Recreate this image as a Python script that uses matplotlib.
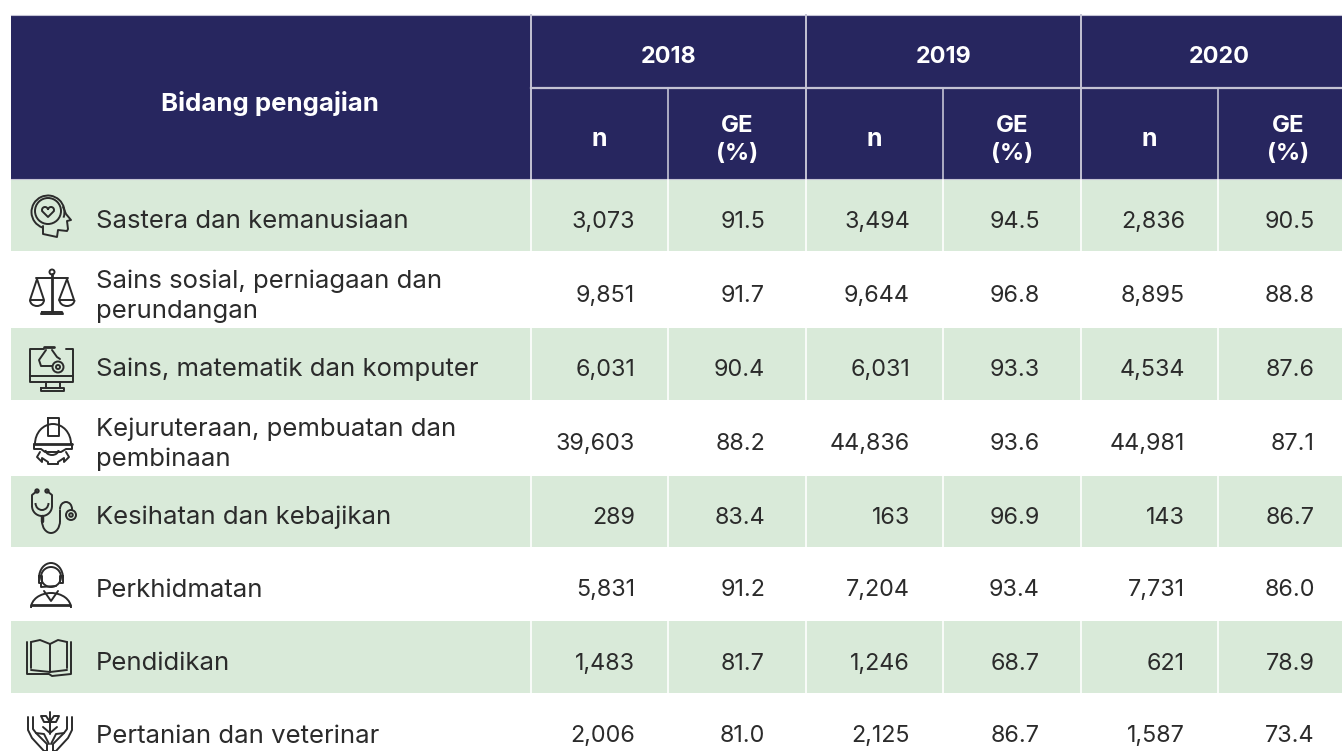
import numpy as np
from matplotlib import pyplot as plt
from matplotlib.patches import Rectangle, Circle, Arc

plt.rcParams['font.family'] = ['Inter', 'DejaVu Sans']

# table data
fields = ["Sastera dan kemanusiaan", "Sains sosial, perniagaan dan\nperundangan", "Sains, matematik dan komputer",
          "Kejuruteraan, pembuatan dan\npembinaan", "Kesihatan dan kebajikan", "Perkhidmatan", "Pendidikan",
          "Pertanian dan veterinar"]
years = ["2018", "2019", "2020"]
n_2018 = ["3,073", "9,851", "6,031", "39,603", "289", "5,831", "1,483", "2,006"]
ge_2018 = ["91.5", "91.7", "90.4", "88.2", "83.4", "91.2", "81.7", "81.0"]
n_2019 = ["3,494", "9,644", "6,031", "44,836", "163", "7,204", "1,246", "2,125"]
ge_2019 = ["94.5", "96.8", "93.3", "93.6", "96.9", "93.4", "68.7", "86.7"]
n_2020 = ["2,836", "8,895", "4,534", "44,981", "143", "7,731", "621", "1,587"]
ge_2020 = ["90.5", "88.8", "87.6", "87.1", "86.7", "86.0", "78.9", "73.4"]

# layout in pixels, the last column runs off the right edge of the picture
col_edges = [11, 531, 668, 806, 943, 1081, 1218, 1358]
row_edges = [180, 251, 328, 400, 476, 547, 621, 693, 760]
text_y = [221.5, 296.5, 369.5, 444.5, 517.5, 590.5, 663.5, 736.5]
navy = '#27265f'
green = '#d9ead9'
rule = '#c4c3d4'
ink = '#2b2b2b'
label_fs = 18.5
num_fs = 16.8
head_fs = 16.8

fig = plt.figure(figsize=(13.42, 7.51), dpi=100)
ax = fig.add_axes([0, 0, 1, 1])
ax.set_xlim(0, 1342)
ax.set_ylim(751, 0)
ax.axis('off')

# header
ax.add_patch(Rectangle((11, 15), 1331, 164, fc=navy, ec='none'))
for x in col_edges[1:-1:2]:
    ax.plot([x, x], [15, 179], color=rule, lw=1.4)
for x in col_edges[2::2][:3]:
    ax.plot([x, x], [88, 179], color=rule, lw=1.2)
ax.plot([531, 1342], [88, 88], color=rule, lw=1.6)
ax.plot([11, 1342], [15, 15], color=rule, lw=0.8)
ax.plot([11, 1342], [179, 179], color=rule, lw=0.8)
ax.text(270, 103, "Bidang pengajian", color='white', fontsize=18.6, fontweight='bold', ha='center', va='center')
for i, yr in enumerate(years):
    c0, c1 = col_edges[1 + 2*i], col_edges[3 + 2*i]
    ax.text((c0 + c1)/2, 57, yr, color='white', fontsize=head_fs, fontweight='bold', ha='center', va='center')
    ax.text((c0 + col_edges[2 + 2*i])/2, 140, "n", color='white', fontsize=18, fontweight='bold', ha='center', va='center')
    xc = (col_edges[2 + 2*i] + c1)/2
    ax.text(xc, 126, "GE", color='white', fontsize=17.2, fontweight='bold', ha='center', va='center')
    ax.text(xc, 154, "(%)", color='white', fontsize=17.2, fontweight='bold', ha='center', va='center')

# body
n_cols = [n_2018, n_2019, n_2020]
ge_cols = [ge_2018, ge_2019, ge_2020]
n_right = [635, 910, 1185]
ge_right = [765, 1040, 1315]
for r, name in enumerate(fields):
    top, bottom = row_edges[r], row_edges[r + 1]
    if r % 2 == 0:
        ax.add_patch(Rectangle((11, top), 1331, bottom - top, fc=green, ec='none'))
        for x in col_edges[1:-1]:
            ax.plot([x, x], [top, bottom], color='white', lw=1.2)
    if '\n' in name:
        first, second = name.split('\n')
        ax.text(96, text_y[r] - 15, first, color=ink, fontsize=label_fs, ha='left', va='center')
        ax.text(96, text_y[r] + 15, second, color=ink, fontsize=label_fs, ha='left', va='center')
    else:
        ax.text(96, text_y[r], name, color=ink, fontsize=label_fs, ha='left', va='center')
    for j in range(3):
        ax.text(n_right[j], text_y[r], n_cols[j][r], color=ink, fontsize=num_fs, ha='right', va='center')
        ax.text(ge_right[j], text_y[r], ge_cols[j][r], color=ink, fontsize=num_fs, ha='right', va='center')


# icons, thin outline drawings. y runs downward so arcs 180-360 are upper halves
def line(xs, ys, lw=1.4):
    ax.plot(xs, ys, color=ink, lw=lw, solid_capstyle='round', clip_on=True)


def ring(x, y, r, lw=1.4):
    ax.add_patch(Circle((x, y), r, fc='none', ec=ink, lw=lw))


def arc(x, y, w, h, a0, a1, lw=1.4):
    ax.add_patch(Arc((x, y), w, h, theta1=a0, theta2=a1, ec=ink, lw=lw))


# head with heart
arc(48, 212, 33, 33, 110, 20)
ring(48, 211, 13)
arc(45, 210, 6, 6, 150, 360)
arc(51, 210, 6, 6, 180, 390)
line([42.5, 48, 53.5], [211.5, 217, 211.5])
line([63, 66, 71, 67, 68, 67, 58, 57, 43, 43], [207, 214, 220, 221, 229, 231, 230, 237, 234, 226])
# scales
line([52, 52], [274, 311], 2)
ring(52, 272, 2.5)
line([36, 68], [278, 278])
line([37, 30, 44, 37], [279, 300, 300, 279])
line([67, 59, 74, 67], [279, 300, 300, 279])
arc(37, 300, 14, 12, 0, 180)
arc(67, 300, 15, 12, 0, 180)
line([42, 62, 63, 41, 42], [312, 312, 314, 314, 312])
# monitor
line([44, 30, 30, 73, 73, 66], [349, 349, 382, 382, 349, 349])
line([30, 73], [376, 376])
line([46, 46, 60, 60], [382, 388, 388, 382])
line([41, 64, 64, 41, 41], [388, 388, 391, 391, 388])
line([44, 54], [347, 347], 2)
line([46, 39, 41, 52], [350, 360, 366, 366])
line([52, 57, 60], [350, 357, 359])
ring(58, 367, 5.5)
ring(58, 367, 2)
# helmet and gear
arc(53, 444, 36, 40, 180, 360)
line([48, 48, 59, 59, 48], [418, 436, 436, 418, 418])
line([34, 72], [444, 444], 2)
line([34, 34, 41, 45, 61, 66, 72, 72], [444, 449, 449, 452, 452, 449, 449, 444])
arc(52, 450, 13, 10, 0, 180)
line([40, 37, 42, 42, 48, 48, 58, 58, 64, 64, 69, 66], [452, 457, 462, 458, 462, 464, 464, 462, 458, 462, 457, 452])
# stethoscope
line([37, 32, 32], [491, 495, 506])
line([47, 52, 52], [491, 495, 506])
arc(42, 506, 20, 20, 0, 180)
arc(42, 503, 13, 14, 0, 180)
ring(37, 491, 1.7)
ring(47, 491, 1.7)
line([42, 42], [516, 521], 2.5)
arc(51, 521, 18, 24, 0, 180)
line([60, 60], [521, 510])
arc(66, 509, 12, 14, 180, 360)
line([72, 72], [509, 510])
ring(71, 515, 5)
ring(71, 515, 1.8)
# headset person
ring(51, 577, 10)
arc(51, 578, 24, 30, 180, 360)
line([39, 39, 42, 42, 39], [576, 583, 583, 576, 576])
line([63, 63, 60, 60, 63], [576, 583, 583, 576, 576])
line([41, 41, 56], [584, 587, 586])
line([44, 51, 58], [591, 601, 591])
arc(51, 608, 40, 30, 180, 360)
line([31, 70], [605, 605], 2)
# book
line([27, 27, 49, 52, 71, 71], [642, 674, 674, 676, 674, 642])
line([31, 31], [642, 668])
line([67, 67], [642, 668])
line([31, 40, 50, 50], [642, 640, 644, 672])
line([67, 58, 50], [642, 640, 644])
line([31, 50, 67], [670, 672, 670])
# plant in hands
line([50, 50], [712, 734])
line([50, 44, 41, 46, 50], [722, 722, 716, 716, 722])
line([50, 56, 59, 54, 50], [722, 722, 716, 716, 722])
line([43, 50, 57], [727, 733, 727])
line([28, 28, 32, 44, 46], [717, 730, 738, 751, 751])
line([33, 33, 36, 47, 47], [717, 729, 733, 744, 751])
line([36, 44, 49], [733, 734, 744])
line([72, 72, 68, 56, 54], [717, 730, 738, 751, 751])
line([67, 67, 64, 53, 53], [717, 729, 733, 744, 751])
line([64, 56, 51], [733, 734, 744])

fig.savefig('out.png', dpi=100)
